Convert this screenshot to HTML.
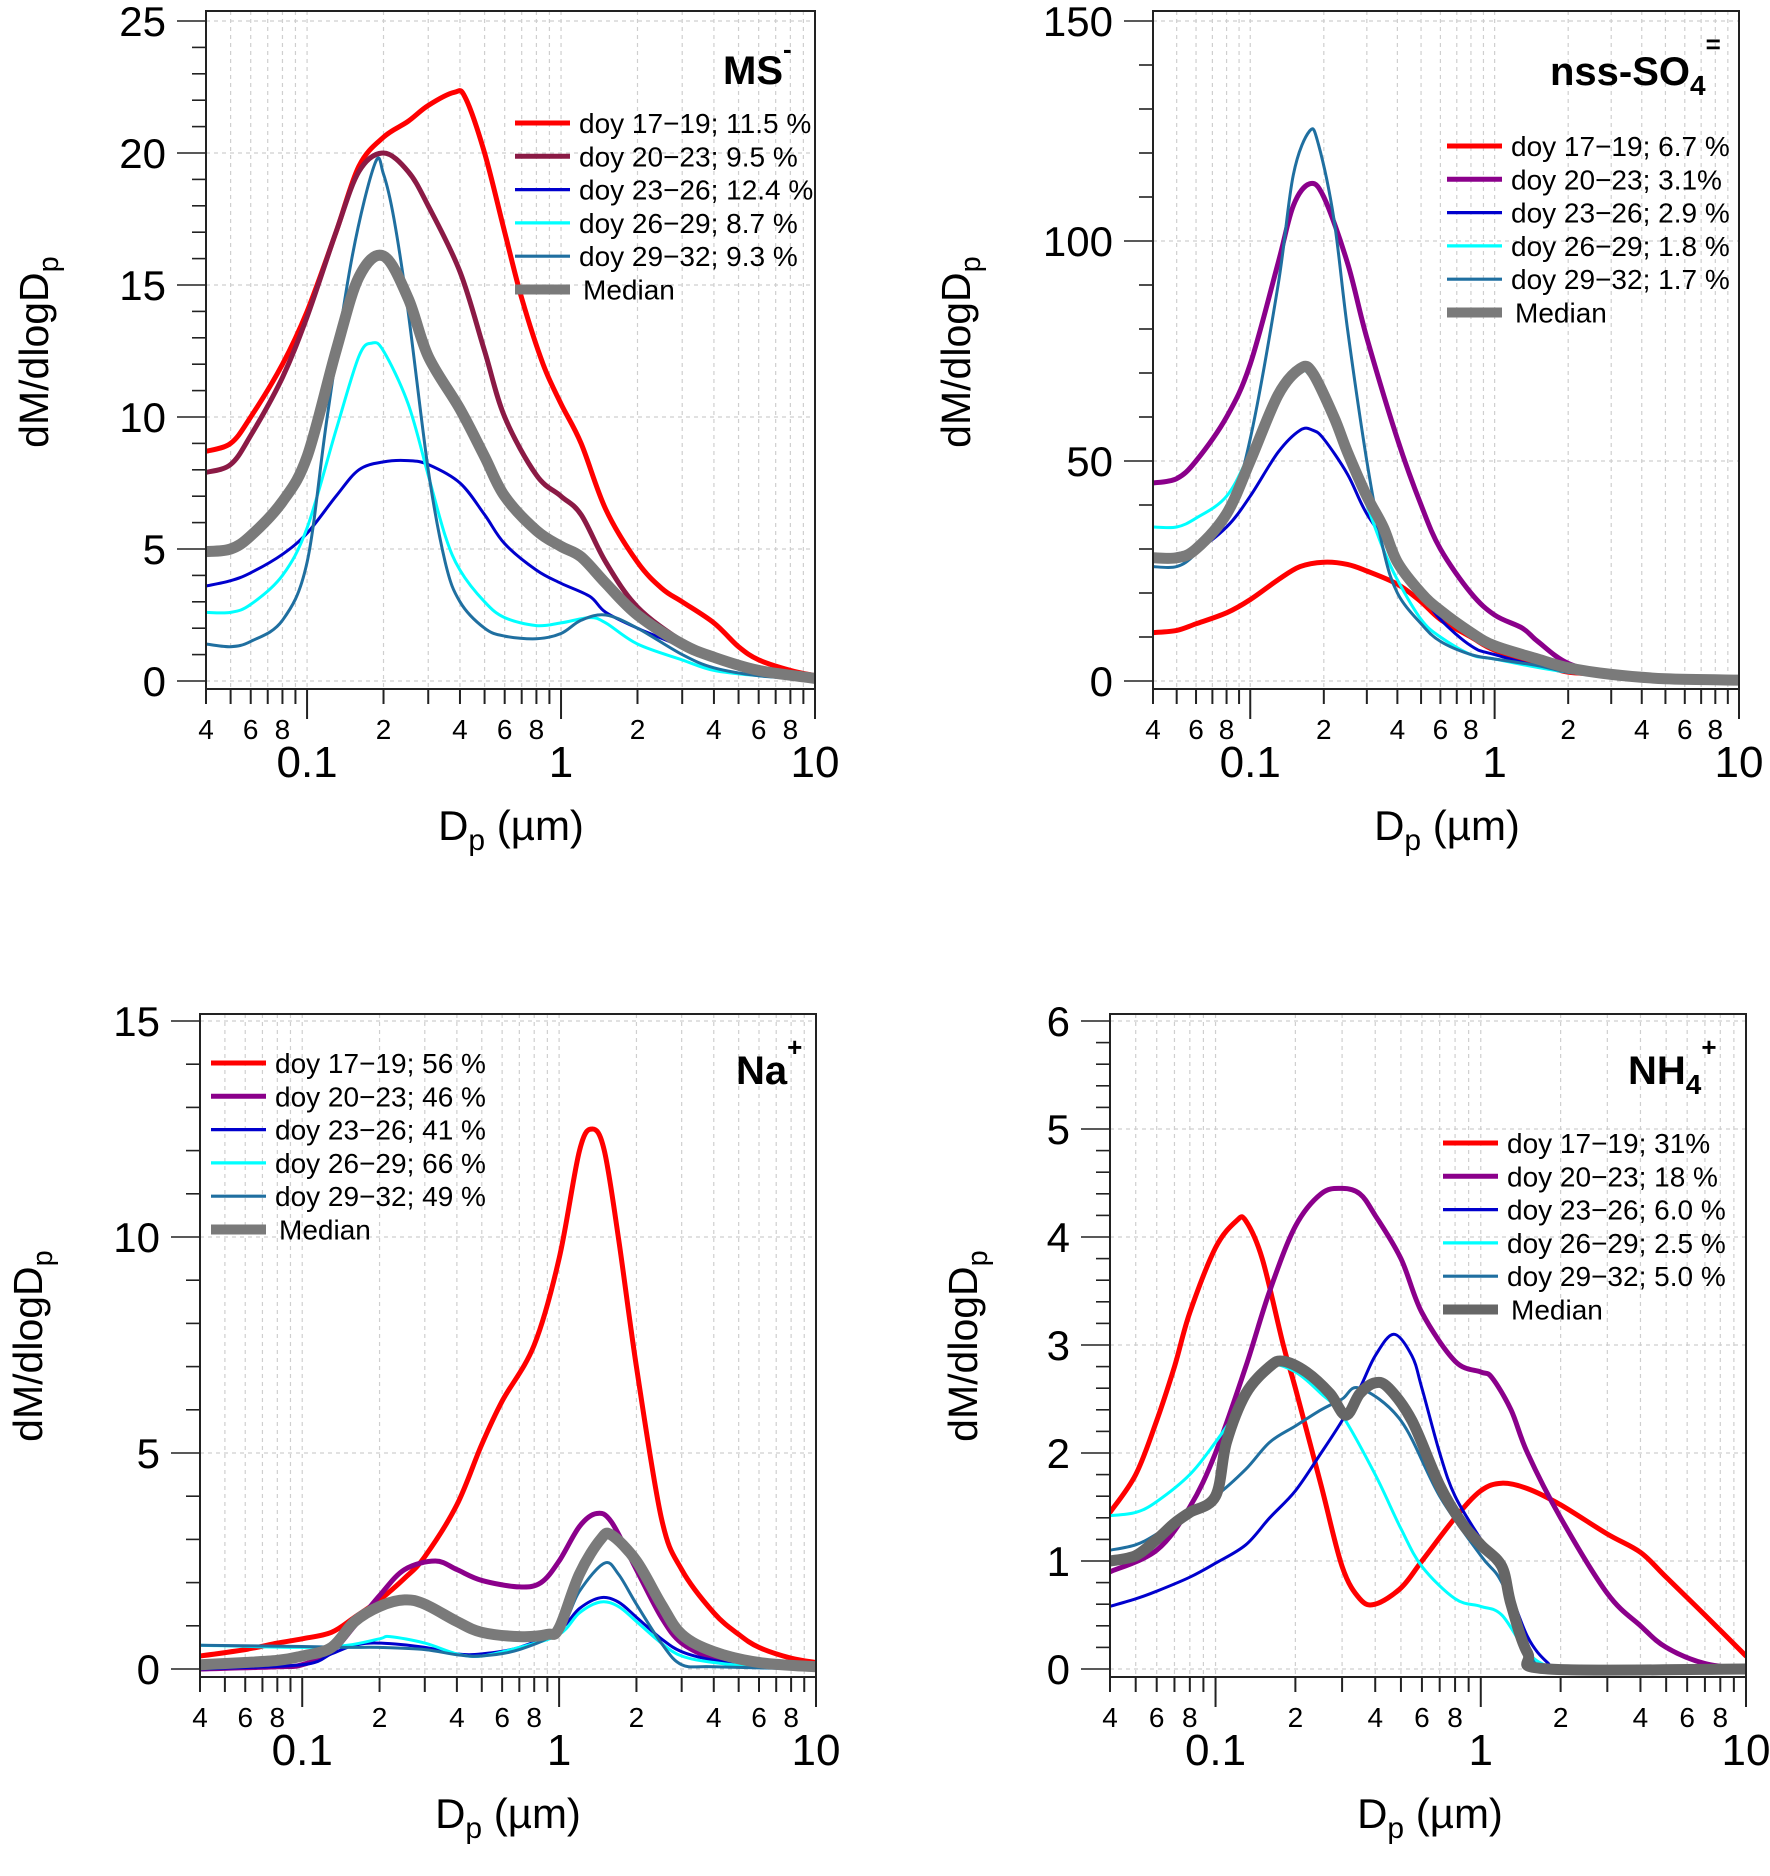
<!DOCTYPE html>
<html><head><meta charset="utf-8"><style>
html,body{margin:0;padding:0;background:#fff;}
svg{display:block;font-family:"Liberation Sans",Arial,sans-serif;}
</style></head><body>
<svg id="fig" width="1770" height="1876" viewBox="0 0 1770 1876" xmlns="http://www.w3.org/2000/svg"></svg>
<script>
// ---------- DATA: panel 1 (MS-) ----------
const ms_red_d=[0.04,0.05,0.06,0.08,0.1,0.13,0.16,0.2,0.25,0.3,0.38,0.42,0.5,0.6,0.7,0.85,1.0,1.2,1.5,2,2.5,3,4,5,6,8,10];
const ms_red_v=[8.7,9.0,10,12,14,17,19.5,20.6,21.2,21.8,22.3,22.1,20,17,14.5,12,10.5,9,6.5,4.5,3.5,3,2.2,1.3,0.8,0.4,0.2];
const ms_dred_d=[0.04,0.05,0.06,0.08,0.1,0.13,0.16,0.2,0.25,0.3,0.4,0.5,0.6,0.8,1.0,1.2,1.5,2,3,4,6,10];
const ms_dred_v=[7.9,8.2,9.3,11.5,13.8,17,19.3,20,19.3,18,15.5,12.5,10,7.8,7,6.3,4.5,2.8,1.5,0.9,0.4,0.1];
const ms_blue_d=[0.04,0.05,0.06,0.08,0.1,0.13,0.16,0.2,0.25,0.3,0.4,0.5,0.6,0.8,1.0,1.3,1.5,2,3,4,6,10];
const ms_blue_v=[3.6,3.8,4.1,4.8,5.6,7,8,8.3,8.35,8.2,7.5,6.3,5.2,4.2,3.7,3.2,2.6,2.0,1.3,0.8,0.3,0.1];
const ms_cyan_d=[0.04,0.05,0.06,0.08,0.1,0.13,0.16,0.18,0.2,0.25,0.3,0.35,0.4,0.5,0.6,0.8,1.0,1.3,1.5,2,3,4,6,10];
const ms_cyan_v=[2.6,2.6,2.9,4,5.8,9.5,12.3,12.8,12.5,10.5,7.8,5.5,4.2,3,2.4,2.1,2.2,2.4,2.2,1.4,0.8,0.4,0.2,0.05];
const ms_steel_d=[0.04,0.05,0.06,0.08,0.1,0.12,0.15,0.185,0.2,0.22,0.25,0.3,0.35,0.4,0.5,0.6,0.8,1.0,1.2,1.5,2,3,4,6,10];
const ms_steel_v=[1.4,1.3,1.5,2.3,4.5,10,16,19.6,19.2,17.5,14,8,4.5,3,2,1.7,1.6,1.8,2.3,2.5,2.0,1,0.5,0.2,0.05];
const ms_med_d=[0.04,0.05,0.06,0.08,0.1,0.13,0.16,0.2,0.25,0.3,0.4,0.5,0.6,0.8,1.0,1.2,1.5,2,3,4,6,10];
const ms_med_v=[4.9,5.0,5.5,6.8,8.5,12.5,15.3,16.1,14.5,12.3,10.3,8.5,7,5.7,5.1,4.7,3.7,2.5,1.4,0.9,0.4,0.1];
// ---------- DATA: panel 2 (nss-SO4=) ----------
const so_red_d=[0.04,0.05,0.06,0.08,0.1,0.13,0.16,0.2,0.25,0.3,0.4,0.5,0.6,0.8,1,1.5,2,3,5,10];
const so_red_v=[11,11.5,13,15.5,18.5,23,26,27,26.5,25,22,18,14,10,7,4,2,1.5,0.5,0.1];
const so_pur_d=[0.04,0.05,0.06,0.08,0.1,0.13,0.15,0.175,0.2,0.25,0.3,0.4,0.5,0.6,0.8,1.0,1.3,1.5,2,3,5,10];
const so_pur_v=[45,46,50,60,72,95,108,113,110,95,78,55,40,30,20,15,12,9,4,1.5,0.5,0.1];
const so_blue_d=[0.04,0.06,0.08,0.1,0.13,0.16,0.18,0.2,0.25,0.3,0.4,0.5,0.6,0.8,1,2,5,10];
const so_blue_v=[28,30,35,42,52,57,57,55,47,38,28,20,14,8,6,2,0.5,0.1];
const so_cyan_d=[0.04,0.05,0.06,0.08,0.1,0.13,0.16,0.2,0.25,0.3,0.35,0.4,0.5,0.6,0.8,1,2,5,10];
const so_cyan_v=[35,35,37,42,52,66,71,65,52,40,30,23,14,10,6,5,2,0.5,0.1];
const so_steel_d=[0.04,0.05,0.06,0.08,0.1,0.13,0.15,0.175,0.19,0.22,0.25,0.3,0.35,0.4,0.5,0.6,0.8,1,1.5,2,3,5,10];
const so_steel_v=[26,26,29,37,55,90,115,125,122,105,80,50,30,20,13,9,6,5,3.5,2,1,0.5,0.2];
const so_med_d=[0.04,0.05,0.06,0.08,0.1,0.13,0.16,0.18,0.22,0.25,0.3,0.35,0.4,0.5,0.6,0.8,1,1.5,2,3,5,10];
const so_med_v=[28,28,30,38,50,65,71,70,60,52,42,35,27,20,16,11,8,5,3,1.5,0.5,0.2];
// ---------- DATA: panel 3 (Na+) ----------
const na_red_d=[0.04,0.06,0.08,0.1,0.13,0.16,0.2,0.25,0.3,0.4,0.5,0.6,0.8,1.0,1.2,1.35,1.5,1.7,2,2.5,3,4,5,6,8,10];
const na_red_v=[0.3,0.45,0.6,0.7,0.85,1.2,1.6,2.1,2.6,3.8,5.2,6.2,7.5,9.5,12,12.5,12,10,7,3.5,2.3,1.3,0.8,0.5,0.25,0.15];
const na_pur_d=[0.04,0.08,0.1,0.13,0.16,0.2,0.25,0.33,0.4,0.5,0.7,0.85,1.0,1.2,1.4,1.6,2,2.5,3,4,6,10];
const na_pur_v=[0,0.05,0.1,0.4,1.0,1.7,2.3,2.5,2.3,2.05,1.9,2.0,2.5,3.3,3.6,3.4,2.3,1.2,0.6,0.25,0.1,0];
const na_blue_d=[0.04,0.1,0.13,0.16,0.2,0.3,0.4,0.5,0.7,1.0,1.2,1.45,1.7,2,2.5,3,4,6,10];
const na_blue_v=[0,0.1,0.35,0.55,0.6,0.5,0.35,0.35,0.5,0.9,1.4,1.65,1.55,1.2,0.7,0.4,0.2,0.05,0];
const na_cyan_d=[0.04,0.1,0.15,0.2,0.22,0.3,0.4,0.5,0.7,1.0,1.2,1.45,1.7,2,2.5,3,4,6,10];
const na_cyan_v=[0.55,0.5,0.55,0.7,0.75,0.6,0.35,0.3,0.5,0.8,1.3,1.55,1.45,1.1,0.6,0.3,0.15,0.05,0];
const na_steel_d=[0.04,0.1,0.15,0.2,0.3,0.4,0.5,0.7,1.0,1.2,1.5,1.7,2,2.5,3,4,10];
const na_steel_v=[0.55,0.52,0.5,0.5,0.45,0.33,0.3,0.45,0.9,1.8,2.45,2.2,1.5,0.6,0.1,0.05,0];
const na_med_d=[0.04,0.06,0.08,0.1,0.13,0.16,0.2,0.25,0.3,0.4,0.5,0.7,0.9,1.0,1.2,1.45,1.6,2,2.5,3,4,6,10];
const na_med_v=[0.1,0.15,0.2,0.3,0.5,1.1,1.45,1.6,1.5,1.1,0.85,0.75,0.8,0.95,2.2,3.0,3.1,2.5,1.5,0.8,0.4,0.15,0.05];
// ---------- DATA: panel 4 (NH4+) ----------
const nh_red_d=[0.04,0.05,0.06,0.07,0.08,0.1,0.12,0.13,0.15,0.18,0.2,0.25,0.3,0.35,0.4,0.5,0.6,0.8,1.0,1.2,1.5,2,3,4,5,7,10];
const nh_red_v=[1.45,1.8,2.3,2.8,3.3,3.9,4.15,4.15,3.8,3.0,2.6,1.7,0.95,0.65,0.6,0.75,1.0,1.4,1.65,1.72,1.67,1.52,1.25,1.08,0.85,0.5,0.12];
const nh_pur_d=[0.04,0.06,0.08,0.1,0.13,0.16,0.2,0.25,0.3,0.35,0.4,0.5,0.6,0.8,1.0,1.1,1.3,1.5,2,3,4,5,7,10];
const nh_pur_v=[0.9,1.1,1.5,2.0,2.8,3.5,4.1,4.4,4.45,4.4,4.2,3.8,3.3,2.85,2.75,2.7,2.4,2.0,1.4,0.7,0.4,0.2,0.05,0];
const nh_blue_d=[0.04,0.05,0.06,0.08,0.1,0.13,0.16,0.2,0.25,0.3,0.35,0.4,0.47,0.55,0.6,0.7,0.8,1.0,1.2,1.5,1.8,2,10];
const nh_blue_v=[0.58,0.65,0.72,0.85,0.98,1.15,1.4,1.65,2.0,2.3,2.6,2.9,3.1,2.9,2.6,2.0,1.6,1.2,0.9,0.3,0.05,0,0];
const nh_cyan_d=[0.04,0.05,0.06,0.08,0.1,0.13,0.16,0.2,0.25,0.3,0.4,0.5,0.6,0.8,1.0,1.2,1.5,1.8,2,10];
const nh_cyan_v=[1.42,1.45,1.55,1.8,2.1,2.5,2.8,2.75,2.55,2.35,1.8,1.3,0.95,0.65,0.58,0.5,0.15,0.02,0,0];
const nh_steel_d=[0.04,0.05,0.06,0.08,0.1,0.13,0.16,0.2,0.25,0.3,0.35,0.5,0.7,1.0,1.2,1.5,2,10];
const nh_steel_v=[1.1,1.15,1.25,1.45,1.6,1.85,2.1,2.25,2.4,2.5,2.6,2.3,1.6,1.05,0.8,0.2,0,0];
const nh_med_d=[0.04,0.05,0.06,0.07,0.08,0.1,0.11,0.13,0.16,0.18,0.22,0.27,0.31,0.35,0.4,0.45,0.55,0.7,0.85,1.0,1.2,1.3,1.5,1.8,10];
const nh_med_v=[1.0,1.05,1.2,1.35,1.45,1.6,2.1,2.55,2.8,2.85,2.75,2.55,2.35,2.55,2.65,2.6,2.3,1.7,1.35,1.15,0.95,0.6,0.15,0,0];
// tick labels
const minorLabels=[4,6,8,2,4,6,8,2,4,6,8];

const NS="http://www.w3.org/2000/svg";
const svg=document.getElementById('fig');
function mk(tag,attrs,parent){const e=document.createElementNS(NS,tag);for(const k in attrs)e.setAttribute(k,attrs[k]);(parent||svg).appendChild(e);return e;}

const COL={red:'#ff0000',dred:'#8b1a45',pur:'#8b008b',blue:'#0000cd',cyan:'#00ffff',steel:'#1f6fa0',med:'#7a7a7a',med2:'#666666'};

function catmull(pts){
  let d='M'+pts[0][0].toFixed(1)+','+pts[0][1].toFixed(1);
  for(let i=0;i<pts.length-1;i++){
    const p0=pts[i-1]||pts[i],p1=pts[i],p2=pts[i+1],p3=pts[i+2]||p2;
    const c1=[p1[0]+(p2[0]-p0[0])/6,p1[1]+(p2[1]-p0[1])/6];
    const c2=[p2[0]-(p3[0]-p1[0])/6,p2[1]-(p3[1]-p1[1])/6];
    d+='C'+c1[0].toFixed(1)+','+c1[1].toFixed(1)+' '+c2[0].toFixed(1)+','+c2[1].toFixed(1)+' '+p2[0].toFixed(1)+','+p2[1].toFixed(1);
  }
  return d;
}

function panel(cfg){
  const g=mk('g',{});
  
  
  const L=cfg.L,R=cfg.R,T=cfg.T,B=cfg.B,Y0=cfg.y0px,YT=cfg.ytopPx;
  const lx0=Math.log10(0.04),lx1=1;
  const X=d=>L+(Math.log10(d)-lx0)/(lx1-lx0)*(R-L);
  const Y=v=>Y0-(v/cfg.ymax)*(Y0-YT);
  const decs=[0.01,0.1,1];
  decs.forEach(dec=>{for(let m=1;m<=9;m++){const d=dec*m;if(d<0.04||d>10)continue;
    const gl=mk('line',{x1:X(d),x2:X(d),y1:T,y2:B,stroke:'#cfcfcf','stroke-width':1.2,'stroke-dasharray':'4,4'},g);
    }});
  for(let v=cfg.ystep;v<=cfg.ymax;v+=cfg.ystep){
    const gl=mk('line',{x1:L,x2:R,y1:Y(v),y2:Y(v),stroke:'#cfcfcf','stroke-width':1.2,'stroke-dasharray':'4,4'},g);
    }
  mk('line',{x1:L,x2:R,y1:Y(0),y2:Y(0),stroke:'#cfcfcf','stroke-width':1.2,'stroke-dasharray':'4,4'},g);
  const cp=mk('clipPath',{id:'clip'+cfg.id},g);mk('rect',{x:L,y:T,width:R-L,height:B-T},cp);
  const sg=mk('g',{'clip-path':'url(#clip'+cfg.id+')'},g);
  cfg.series.forEach(s=>{
    const pts=s.d.map((d,i)=>[X(d),Y(s.v[i])]);
    const p=mk('path',{d:catmull(pts),fill:'none',stroke:s.c,'stroke-width':s.w,'stroke-linejoin':'round','stroke-linecap':'round'},sg);
    
    
  });
  const fr=mk('rect',{x:L,y:T,width:R-L,height:B-T,fill:'none',stroke:'#222','stroke-width':2},g);
  
  const nMinor=Math.round(cfg.ymax/cfg.yminor);
  for(let i=0;i<=nMinor;i++){const v=i*cfg.yminor;const major=Math.abs(v/cfg.ystep-Math.round(v/cfg.ystep))<1e-6;
    mk('line',{x1:L-(major?29:14),x2:L,y1:Y(v),y2:Y(v),stroke:'#222','stroke-width':1.6},g);
    if(major){const t=mk('text',{x:L-40,y:Y(v)+15,'text-anchor':'end','font-size':42,fill:'#000'},g);t.textContent=String(Math.round(v));
      }}
  let li=0;
  decs.forEach(dec=>{for(let m=1;m<=9;m++){const d=dec*m;if(d<0.0399||d>10.01)continue;const major=(m===1);
    mk('line',{x1:X(d),x2:X(d),y1:B,y2:B+(major?30:15),stroke:'#222','stroke-width':2},g);
    if(!major&&(m===2||m===4||m===6||m===8)){const t=mk('text',{x:X(d),y:B+50,'text-anchor':'middle','font-size':28,fill:'#000'},g);t.textContent=String(minorLabels[li++]);
      }}});
  mk('line',{x1:X(10),x2:X(10),y1:B,y2:B+30,stroke:'#222','stroke-width':2},g);
  [[0.1,'0.1'],[1,'1'],[10,'10']].forEach(([d,s])=>{const t=mk('text',{x:X(d),y:B+88,'text-anchor':'middle','font-size':44,fill:'#000'},g);t.textContent=s;
    });
  const xt=mk('text',{x:cfg.xtx,y:cfg.xty,'text-anchor':'middle','font-size':42,fill:'#000'},g);
  
  xt.innerHTML='D<tspan font-size="30" dy="10">p</tspan><tspan dy="-10"> (µm)</tspan>';
  const yt=mk('text',{x:0,y:0,'text-anchor':'middle','font-size':41,fill:'#000',transform:'translate('+cfg.ytx+','+cfg.yty+') rotate(-90)'},g);
  
  yt.innerHTML='dM/dlogD<tspan font-size="29" dy="10">p</tspan>';
  const tt=mk('text',{x:cfg.tx,y:cfg.ty,'font-size':40,'font-weight':'bold',fill:'#000'},g);
  
  tt.innerHTML=cfg.title;
  cfg.series.forEach((s,i)=>{const y=cfg.legY+i*33.3;
    const lg=mk('g',{},g);
    mk('line',{x1:cfg.legX,x2:cfg.legX+55,y1:y,y2:y,stroke:s.c,'stroke-width':s.key==='median'?10:(s.w>4?5:3.2)},lg);
    const t=mk('text',{x:cfg.legX+(s.key==='median'?68:64),y:y+10,'font-size':28,fill:'#000','xml:space':'preserve'},lg);t.textContent=s.label;
  });
}

panel({id:1,name:'ms-panel',L:206,R:815,T:11,B:689,y0px:681,ytopPx:21,ymax:25,ystep:5,yminor:1,
  xtx:511,xty:840,ytx:48,yty:352,tx:723,ty:84,title:'MS<tspan font-size="26" dy="-26">-</tspan>',legX:515,legY:123,
  series:[
   {key:'doy17-19',d:ms_red_d,v:ms_red_v,c:COL.red,w:5,label:'doy 17−19; 11.5 %'},
   {key:'doy20-23',d:ms_dred_d,v:ms_dred_v,c:COL.dred,w:5,label:'doy 20−23;   9.5 %'},
   {key:'doy23-26',d:ms_blue_d,v:ms_blue_v,c:COL.blue,w:3,label:'doy 23−26; 12.4 %'},
   {key:'doy26-29',d:ms_cyan_d,v:ms_cyan_v,c:COL.cyan,w:3,label:'doy 26−29;  8.7 %'},
   {key:'doy29-32',d:ms_steel_d,v:ms_steel_v,c:COL.steel,w:3,label:'doy 29−32;  9.3 %'},
   {key:'median',d:ms_med_d,v:ms_med_v,c:COL.med,w:11,label:'Median'}]});

panel({id:2,name:'nss-so4-panel',L:1153,R:1739,T:11,B:689,y0px:681,ytopPx:21,ymax:150,ystep:50,yminor:10,
  xtx:1447,xty:840,ytx:970,yty:352,tx:1550,ty:85,title:'nss-SO<tspan font-size="28" dy="10">4</tspan><tspan font-size="26" dy="-42">=</tspan>',legX:1447,legY:146,
  series:[
   {key:'doy17-19',d:so_red_d,v:so_red_v,c:COL.red,w:5,label:'doy 17−19; 6.7 %'},
   {key:'doy20-23',d:so_pur_d,v:so_pur_v,c:COL.pur,w:5,label:'doy 20−23; 3.1%'},
   {key:'doy23-26',d:so_blue_d,v:so_blue_v,c:COL.blue,w:3,label:'doy 23−26; 2.9 %'},
   {key:'doy26-29',d:so_cyan_d,v:so_cyan_v,c:COL.cyan,w:3,label:'doy 26−29; 1.8 %'},
   {key:'doy29-32',d:so_steel_d,v:so_steel_v,c:COL.steel,w:3,label:'doy 29−32; 1.7 %'},
   {key:'median',d:so_med_d,v:so_med_v,c:COL.med,w:11,label:'Median'}]});

panel({id:3,name:'na-panel',L:200,R:816,T:1014,B:1677,y0px:1669,ytopPx:1021,ymax:15,ystep:5,yminor:1,
  xtx:508,xty:1828,ytx:42,yty:1346,tx:736,ty:1084,title:'Na<tspan font-size="26" dy="-28">+</tspan>',legX:211,legY:1063,
  series:[
   {key:'doy17-19',d:na_red_d,v:na_red_v,c:COL.red,w:5,label:'doy 17−19; 56 %'},
   {key:'doy20-23',d:na_pur_d,v:na_pur_v,c:COL.pur,w:5,label:'doy 20−23; 46 %'},
   {key:'doy23-26',d:na_blue_d,v:na_blue_v,c:COL.blue,w:3,label:'doy 23−26; 41 %'},
   {key:'doy26-29',d:na_cyan_d,v:na_cyan_v,c:COL.cyan,w:3,label:'doy 26−29; 66 %'},
   {key:'doy29-32',d:na_steel_d,v:na_steel_v,c:COL.steel,w:3,label:'doy 29−32; 49 %'},
   {key:'median',d:na_med_d,v:na_med_v,c:COL.med,w:11,label:'Median'}]});

panel({id:4,name:'nh4-panel',L:1110,R:1746,T:1014,B:1677,y0px:1669,ytopPx:1021,ymax:6,ystep:1,yminor:0.2,
  xtx:1430,xty:1828,ytx:977,yty:1346,tx:1628,ty:1084,title:'NH<tspan font-size="28" dy="10">4</tspan><tspan font-size="26" dy="-38">+</tspan>',legX:1443,legY:1143,
  series:[
   {key:'doy17-19',d:nh_red_d,v:nh_red_v,c:COL.red,w:5,label:'doy 17−19; 31%'},
   {key:'doy20-23',d:nh_pur_d,v:nh_pur_v,c:COL.pur,w:5,label:'doy 20−23; 18 %'},
   {key:'doy23-26',d:nh_blue_d,v:nh_blue_v,c:COL.blue,w:3,label:'doy 23−26; 6.0 %'},
   {key:'doy26-29',d:nh_cyan_d,v:nh_cyan_v,c:COL.cyan,w:3,label:'doy 26−29; 2.5 %'},
   {key:'doy29-32',d:nh_steel_d,v:nh_steel_v,c:COL.steel,w:3,label:'doy 29−32; 5.0 %'},
   {key:'median',d:nh_med_d,v:nh_med_v,c:COL.med2,w:11,label:'Median'}]});
</script>
</body></html>
